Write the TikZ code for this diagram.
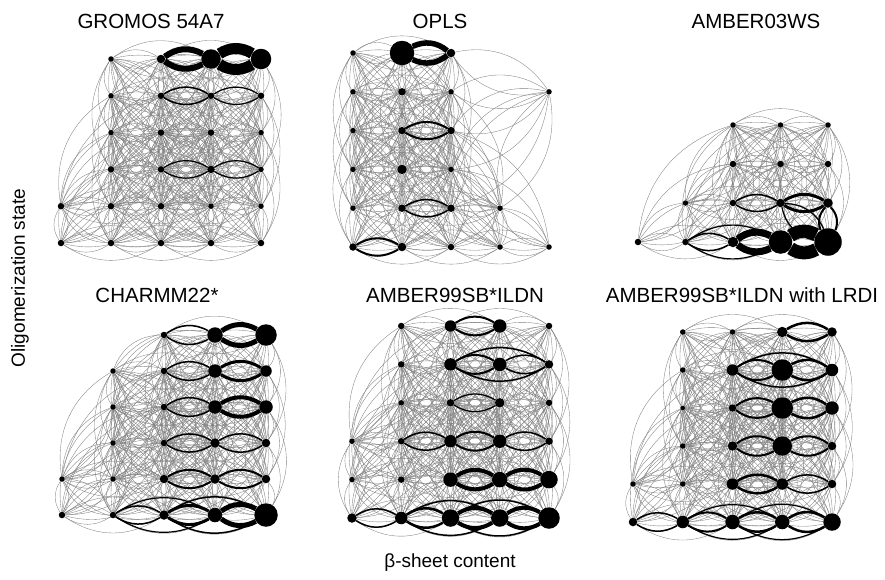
\documentclass[tikz,border=0pt]{standalone}
\usepackage{fontspec}
\setmainfont{Liberation Sans}
\pgfdeclarelayer{bg}
\pgfsetlayers{bg,main}
\tikzset{
  dot/.style={circle, fill=black, inner sep=0pt},
  thinedge/.style={draw=black!50, line width=0.35pt},
  thickedge/.style={draw=black},
  title/.style={font=\fontsize{20.5}{24}\selectfont, inner sep=0pt},
  axislabel/.style={font=\fontsize{19}{23}\selectfont, inner sep=0pt}
}
% #1 prefix, #2 x0, #3 dx, #4 y0, #5 dy, #6 nodes c/r/size, #7 thick edges a/b/width
\newcommand\drawpanel[7]{%
  \foreach \c/\r/\s in {#6} {
    \node[dot, minimum size={\s pt+1.5pt}] (#1-\c-\r) at ({#2+(\c-1)*#3},{#4+(\r-1)*#5}) {};
  }
  \begin{pgfonlayer}{bg}
  \foreach \c/\r/\s [count=\i] in {#6} {
    \foreach \cc/\rr/\ss [count=\j] in {#6} {
      \ifnum\j>\i
        \pgfmathtruncatemacro\ok{(abs(\cc-\c)<=2)&&(abs(\rr-\r)<=3)}
        \ifnum\ok=1
          \draw[thinedge] (#1-\c-\r) to[bend left=34] (#1-\cc-\rr)
                          (#1-\c-\r) to[bend right=34] (#1-\cc-\rr);
        \fi
      \fi
    }
  }
  \foreach \a/\b/\w in {#7} {
    \draw[thickedge, line width=\w pt] (#1-\a) to[bend left=32] (#1-\b)
                                      (#1-\a) to[bend right=32] (#1-\b);
  }
  \end{pgfonlayer}
}
\begin{document}
\begin{tikzpicture}[x=1pt, y=-1pt]
\useasboundingbox (0,0) rectangle (885,579);

% GROMOS 54A7
\drawpanel{G}{61}{50}{59}{36.8}{
  2/1/4, 3/1/7, 4/1/18, 5/1/19,
  2/2/4, 3/2/5, 4/2/5, 5/2/5,
  2/3/4, 3/3/5, 4/3/5, 5/3/4,
  2/4/5, 3/4/5, 4/4/6, 5/4/4,
  1/5/5, 2/5/5, 3/5/5, 4/5/4, 5/5/4,
  1/6/5, 2/6/5, 3/6/5, 4/6/5, 5/6/5}{
  3-1/4-1/6, 4-1/5-1/11, 3-2/4-2/1.5, 4-2/5-2/1.2, 3-4/4-4/1.2, 4-4/5-4/1.2}

% OPLS
\drawpanel{O}{353}{49}{53}{38.8}{
  1/1/4, 2/1/23, 3/1/7,
  1/2/4, 2/2/6, 3/2/4, 5/2/4,
  1/3/4, 2/3/6, 3/3/6,
  1/4/4, 2/4/8, 3/4/4,
  1/5/4, 2/5/6, 3/5/6, 4/5/4,
  1/6/6, 2/6/7, 3/6/5, 4/6/4, 5/6/4}{
  2-1/3-1/5.5, 2-3/3-3/2, 2-5/3-5/1.5, 1-6/2-6/2}

% AMBER03WS
\drawpanel{W}{638}{47.5}{47}{39}{
  3/3/4, 4/3/4, 5/3/4,
  3/4/5, 4/4/5, 5/4/5,
  2/5/4, 3/5/5, 4/5/7, 5/5/8,
  1/6/5, 2/6/5, 3/6/9, 4/6/22, 5/6/26}{
  3-5/4-5/1.5, 4-5/5-5/3, 2-6/3-6/1.5, 3-6/4-6/7, 4-6/5-6/13,
  5-5/5-6/2, 4-5/5-6/1.2, 2-6/4-6/1.2}

% CHARMM22*
\drawpanel{C}{62}{51}{335}{36}{
  3/1/5, 4/1/14, 5/1/20,
  2/2/4, 3/2/5, 4/2/12, 5/2/10,
  2/3/4, 3/3/5, 4/3/12, 5/3/12,
  2/4/4, 3/4/5, 4/4/8, 5/4/7,
  1/5/4, 2/5/4, 3/5/7, 4/5/8, 5/5/7,
  1/6/5, 2/6/5, 3/6/8, 4/6/13, 5/6/22}{
  3-1/4-1/1.5, 4-1/5-1/5, 3-2/4-2/1.5, 4-2/5-2/3, 3-3/4-3/1.5, 4-3/5-3/4,
  3-4/4-4/1.5, 4-4/5-4/1.5, 3-5/4-5/2, 4-5/5-5/2,
  2-6/3-6/1.5, 3-6/4-6/3, 4-6/5-6/5, 2-6/4-6/1.2, 3-6/5-6/1.5}

% AMBER99SB*ILDN
\drawpanel{N}{352}{49.25}{326}{38.4}{
  2/1/5, 3/1/10, 4/1/12, 5/1/5,
  2/2/5, 3/2/11, 4/2/12, 5/2/7,
  2/3/4, 3/3/6, 4/3/8, 5/3/5,
  1/4/4, 2/4/5, 3/4/11, 4/4/12, 5/4/6,
  1/5/4, 2/5/5, 3/5/13, 4/5/14, 5/5/16,
  1/6/8, 2/6/11, 3/6/16, 4/6/16, 5/6/20}{
  3-1/4-1/2, 3-2/4-2/2, 4-2/5-2/1.5, 3-2/5-2/1.5, 3-3/4-3/1.2,
  2-4/3-4/1.5, 3-4/4-4/2, 4-4/5-4/1.5, 3-5/4-5/4, 4-5/5-5/4,
  1-6/2-6/1.5, 2-6/3-6/2.5, 3-6/4-6/4, 4-6/5-6/4, 2-6/4-6/1.5, 3-6/5-6/1.5}

% AMBER99SB*ILDN with LRDI
\drawpanel{L}{633}{49.75}{332}{38}{
  2/1/4, 3/1/4, 4/1/9, 5/1/8,
  2/2/4, 3/2/10, 4/2/20, 5/2/11,
  2/3/3, 3/3/6, 4/3/20, 5/3/12,
  2/4/4, 3/4/8, 4/4/18, 5/4/7,
  1/5/4, 2/5/4, 3/5/10, 4/5/10, 5/5/7,
  1/6/7, 2/6/11, 3/6/13, 4/6/13, 5/6/16}{
  4-1/5-1/2.5, 3-2/4-2/2, 4-2/5-2/2.5, 3-2/5-2/1.5, 3-3/4-3/2, 4-3/5-3/2.5,
  3-4/4-4/2, 4-4/5-4/2, 3-5/4-5/2.5, 4-5/5-5/1.5,
  1-6/2-6/1.5, 2-6/3-6/2, 3-6/4-6/2.5, 4-6/5-6/2.5, 2-6/4-6/1.2, 3-6/5-6/1.2}

% titles
\node[title] (t1) at (151,21) {GROMOS 54A7};
\node[title] (t2) at (440,21.5) {OPLS};
\node[title] (t3) at (756,21) {AMBER03WS};
\node[title] (t4) at (157,295) {CHARMM22*};
\node[title] (t5) at (455,295) {AMBER99SB*ILDN};
\node[title] (t6) at (742,295) {AMBER99SB*ILDN with LRDI};

% axis labels
\node[axislabel, rotate=90] (ylab) at (20,278) {Oligomerization state};
\node[axislabel] (xlab) at (450,563) {β-sheet content};
\end{tikzpicture}
\end{document}
